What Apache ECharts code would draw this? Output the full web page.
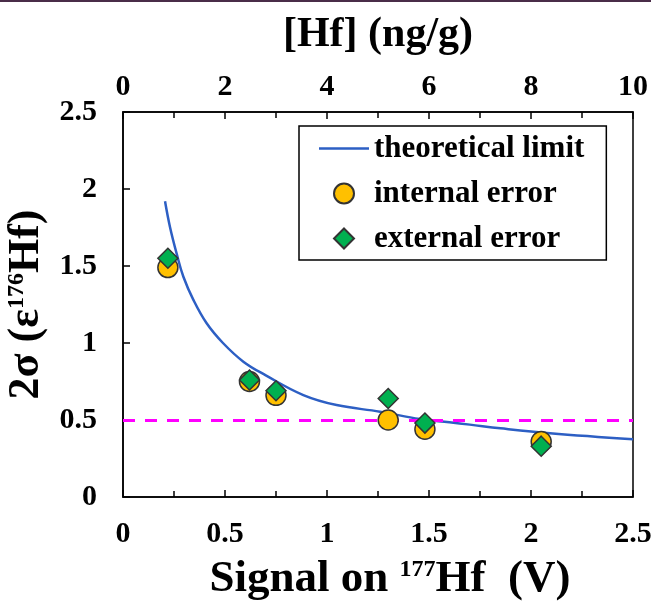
<!DOCTYPE html>
<html>
<head>
<meta charset="utf-8">
<script src="https://cdn.jsdelivr.net/npm/echarts@6/dist/echarts.min.js"></script>
<style>
  html, body { margin: 0; padding: 0; background: #fff; }
  #chart { width: 651px; height: 604px; }
</style>
</head>
<body>
<div id="chart"></div>
<script>
// measured points (signal on 177Hf in V)
const signalV = [0.22, 0.62, 0.75, 1.30, 1.48, 2.05];
const internalErr = [1.49, 0.75, 0.66, 0.50, 0.44, 0.36];
const externalErr = [1.55, 0.76, 0.69, 0.64, 0.48, 0.33];

// theoretical limit curve
const limitX = [0.206, 0.23, 0.263, 0.296, 0.345, 0.41, 0.49, 0.59, 0.70, 0.884, 1.047, 1.26, 1.456, 1.60, 1.70, 1.85, 2.093, 2.5];
const limitY = [1.92, 1.755, 1.58, 1.43, 1.28, 1.128, 1.0, 0.879, 0.79, 0.662, 0.597, 0.554, 0.506, 0.485, 0.47, 0.446, 0.414, 0.375];

const targetLevel = 0.5; // dashed line

const FONT = "'Liberation Serif', 'Times New Roman', serif";

const chart = echarts.init(document.getElementById("chart"));

const option = {
  backgroundColor: "#fff",
  animation: false,
  textStyle: { fontFamily: FONT, fontWeight: "bold", color: "#000" },
  graphic: [
    {
      type: "rect",
      shape: { x: 0, y: 0, width: 651, height: 2 },
      style: { fill: "#4a2d48" },
    },
  ],
  grid: {
    left: 123,
    right: 18,
    top: 112,
    bottom: 107,
    containLabel: false,
    outerBoundsMode: "none",
    show: true,
    borderColor: "#000",
    borderWidth: 1.5,
  },
  legend: {
    orient: "vertical",
    left: 299,
    top: 126,
    padding: [7, 22, 6, 20],
    itemGap: 14,
    itemWidth: 50,
    itemHeight: 20,
    borderColor: "#000",
    borderWidth: 1.5,
    backgroundColor: "#fff",
    textStyle: { fontFamily: FONT, fontWeight: "bold", fontSize: 31, lineHeight: 30, color: "#000" },
    data: [
      { name: "theoretical limit", icon: "path://M0,0L50,0L50,2.5L0,2.5Z" },
      { name: "internal error", icon: "circle" },
      { name: "external error", icon: "path://M10,0L20,10L10,20L0,10Z" },
    ],
  },
  xAxis: [
    {
      type: "value",
      position: "bottom",
      min: 0,
      max: 2.5,
      interval: 0.5,
      axisLine: { lineStyle: { color: "#000", width: 1.5 } },
      axisTick: { inside: true, length: 7, lineStyle: { color: "#000", width: 1.5 } },
      minorTick: { show: true, splitNumber: 2, length: 6, lineStyle: { color: "#000", width: 1.5 } },
      splitLine: { show: false },
      axisLabel: {
        margin: 22,
        fontFamily: FONT,
        fontWeight: "bold",
        fontSize: 30,
        color: "#000",
        formatter: (v) => String(v),
      },
      name: "{n|Signal on }{s|177}{n|Hf  (V)}",
      nameLocation: "middle",
      nameGap: 61,
      nameTextStyle: {
        padding: [0, 0, 0, 24],
        rich: {
          n: { fontFamily: FONT, fontWeight: "bold", fontSize: 45, color: "#000", lineHeight: 44, verticalAlign: "bottom" },
          s: { fontFamily: FONT, fontWeight: "bold", fontSize: 24, color: "#000", lineHeight: 44, verticalAlign: "top" },
        },
      },
    },
    {
      type: "value",
      position: "top",
      min: 0,
      max: 10,
      interval: 2,
      axisLine: { lineStyle: { color: "#000", width: 1.5 } },
      axisTick: { inside: true, length: 7, lineStyle: { color: "#000", width: 1.5 } },
      minorTick: { show: true, splitNumber: 2, length: 6, lineStyle: { color: "#000", width: 1.5 } },
      splitLine: { show: false },
      axisLabel: {
        margin: 10,
        fontFamily: FONT,
        fontWeight: "bold",
        fontSize: 30,
        color: "#000",
      },
      name: "[Hf] (ng/g)",
      nameLocation: "middle",
      nameGap: 56,
      nameTextStyle: { fontFamily: FONT, fontWeight: "bold", fontSize: 42, color: "#000" },
    },
  ],
  yAxis: {
    type: "value",
    min: 0,
    max: 2.5,
    interval: 0.5,
    axisLine: { show: true, lineStyle: { color: "#000", width: 1.5 } },
    axisTick: { show: true, inside: true, length: 7, lineStyle: { color: "#000", width: 1.5 } },
    splitLine: { show: false },
    axisLabel: {
      margin: 26,
      fontFamily: FONT,
      fontWeight: "bold",
      fontSize: 30,
      color: "#000",
      formatter: (v) => String(v),
    },
    name: "{n|2σ (ε}{s|176}{n|Hf)}",
    nameLocation: "middle",
    nameRotate: 90,
    nameGap: 71,
    nameTextStyle: {
      rich: {
        n: { fontFamily: FONT, fontWeight: "bold", fontSize: 44, color: "#000", lineHeight: 44, verticalAlign: "bottom" },
        s: { fontFamily: FONT, fontWeight: "bold", fontSize: 24, color: "#000", lineHeight: 44, verticalAlign: "top" },
      },
    },
  },
  series: [
    {
      name: "theoretical limit",
      type: "line",
      xAxisIndex: 0,
      data: limitX.map((x, i) => [x, limitY[i]]),
      smooth: 0.4,
      symbol: "none",
      lineStyle: { color: "#2d5fc4", width: 2.5 },
      itemStyle: { color: "#2d5fc4" },
      z: 2,
      markLine: {
        silent: true,
        symbol: "none",
        label: { show: false },
        lineStyle: { color: "#ff00ff", width: 3, type: [12, 10] },
        data: [{ yAxis: targetLevel }],
        z: 3,
      },
    },
    {
      name: "internal error",
      type: "scatter",
      xAxisIndex: 0,
      data: signalV.map((x, i) => [x, internalErr[i]]),
      symbol: "circle",
      symbolSize: 20,
      itemStyle: { color: "#ffc000", borderColor: "#333", borderWidth: 1.5, opacity: 1 },
      z: 4,
    },
    {
      name: "external error",
      type: "scatter",
      xAxisIndex: 0,
      data: signalV.map((x, i) => [x, externalErr[i]]),
      symbol: "diamond",
      symbolSize: 20,
      itemStyle: { color: "#00b050", borderColor: "#333", borderWidth: 1.5, opacity: 1 },
      z: 5,
    },
  ],
};

chart.setOption(option);
</script>
</body>
</html>
